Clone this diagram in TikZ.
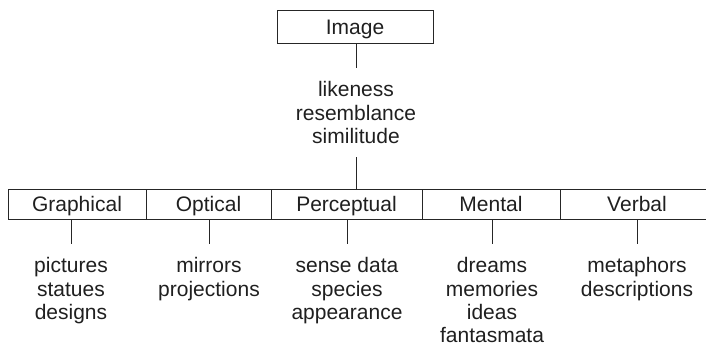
\documentclass[tikz,border=0pt]{standalone}
\usepackage{fontspec}
\setmainfont{Liberation Sans}
\begin{document}
\begin{tikzpicture}[x=1pt,y=-1pt,
  every node/.style={text=black!88},
  lbl/.style={font=\fontsize{21}{23.3}\selectfont},
  cell/.style={lbl,draw=black!85,line width=1pt,minimum height=30pt,inner sep=0pt,text height=15pt,text depth=0pt},
  toplbl/.style={cell,minimum height=33pt},
  list/.style={lbl,align=center,inner xsep=0pt,inner ysep=13.5pt,anchor=north},
  conn/.style={draw=black!85,line width=1pt}]
\useasboundingbox (0,0) rectangle (706,351);
\node[toplbl,minimum width=156pt] (image) at (355,26.5) {Image};
\node[list] (sim) at (356,68) {likeness\\resemblance\\similitude};
\node[cell,minimum width=138pt] (graph) at (77,204) {Graphical};
\node[cell,minimum width=125pt] (opt) at (208.5,204) {Optical};
\node[cell,minimum width=151pt] (perc) at (346.5,204) {Perceptual};
\node[cell,minimum width=138pt] (ment) at (491,204) {Mental};
\node[cell,minimum width=154pt] (verb) at (637,204) {Verbal};
\node[list] (lg) at (71,244) {pictures\\statues\\designs};
\node[list] (lo) at (209,244) {mirrors\\projections};
\node[list] (lp) at (347,244) {sense data\\species\\appearance};
\node[list] (lm) at (492,244) {dreams\\memories\\ideas\\fantasmata};
\node[list] (lv) at (637,244) {metaphors\\descriptions};
\draw[conn] (image.south -| sim.north) -- (sim.north);
\draw[conn] (sim.south) -- (sim.south |- perc.north);
\draw[conn] (lg.north |- graph.south) -- (lg.north);
\draw[conn] (lo.north |- opt.south) -- (lo.north);
\draw[conn] (lp.north |- perc.south) -- (lp.north);
\draw[conn] (lm.north |- ment.south) -- (lm.north);
\draw[conn] (lv.north |- verb.south) -- (lv.north);
\end{tikzpicture}
\end{document}
